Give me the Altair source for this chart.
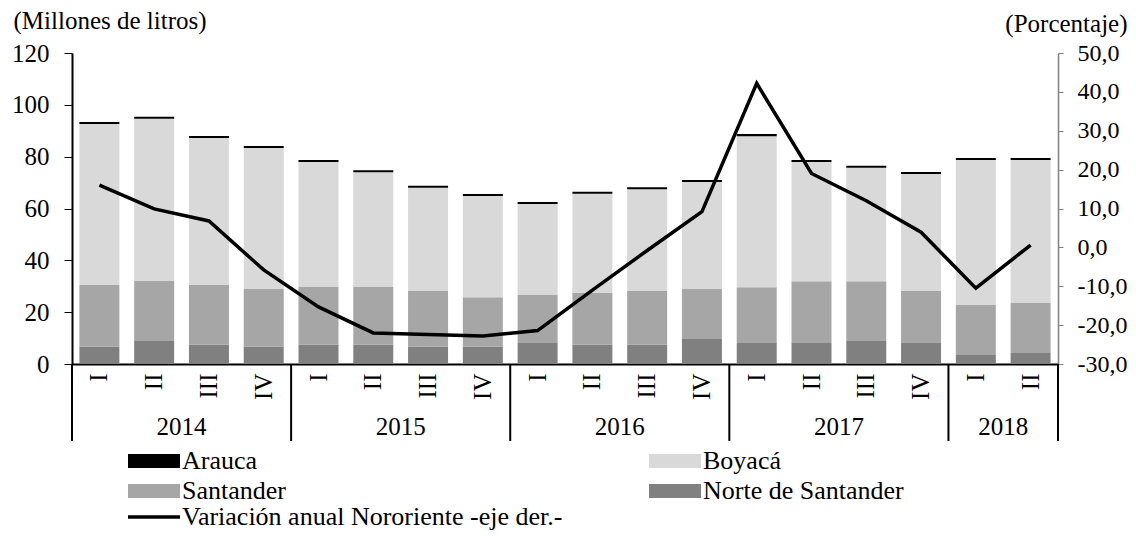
import altair as alt
import pandas as pd

# ---- data ----
year_of = ["2014", "2014", "2014", "2014", "2015", "2015", "2015", "2015",
           "2016", "2016", "2016", "2016", "2017", "2017", "2017", "2017",
           "2018", "2018"]
quarter = ["I", "II", "III", "IV", "I", "II", "III", "IV",
           "I", "II", "III", "IV", "I", "II", "III", "IV",
           "I", "II"]
norte_santander = [6.7, 8.9, 7.5, 6.7, 7.5, 7.5, 6.7, 6.7, 8.1, 7.5, 7.5, 9.6,
                   8.1, 8.1, 8.9, 8.1, 3.5, 4.2]
santander = [23.8, 23.1, 23.0, 22.2, 22.2, 22.2, 21.5, 19.1, 18.5, 19.9, 20.7, 19.3,
             21.5, 23.8, 23.0, 20.1, 19.3, 19.3]
boyaca = [62.1, 62.6, 56.7, 54.4, 48.2, 44.3, 39.8, 39.0, 35.1, 38.3, 39.2, 41.3,
          58.3, 46.0, 43.8, 45.1, 55.9, 55.2]
arauca = [0.8, 0.8, 0.8, 0.8, 0.8, 0.8, 0.8, 0.8, 0.8, 0.8, 0.8, 0.8,
          0.8, 0.8, 0.8, 0.8, 0.8, 0.8]
variacion = [16.0, 9.9, 6.8, -5.8, -15.3, -22.0, -22.4, -22.8, -21.4, -11.0, -0.8, 9.2,
             42.2, 19.0, 12.0, 3.9, -10.5, 0.6]

series_names = ["Arauca", "Boyacá", "Santander", "Norte de Santander"]
series_colors = ["#000000", "#d9d9d9", "#a6a6a6", "#808080"]
line_name = "Variación anual Nororiente -eje der.-"

year_labels = ["2014", "2015", "2016", "2017", "2018"]
year_label_at = ["2014-III", "2015-III", "2016-III", "2017-III", "2018-II"]
separator_at = ["2014-I", "2015-I", "2016-I", "2017-I", "2018-I"]
right_border_at = ["2018-II"]

left_ticks = [0, 20, 40, 60, 80, 100, 120]
right_ticks = [-30, -20, -10, 0, 10, 20, 30, 40, 50]

# ---- tables ----
ids = [y + "-" + q for y, q in zip(year_of, quarter)]
rows = []
for i, key in enumerate(ids):
    rows.append({"id": key, "serie": "Norte de Santander", "valor": norte_santander[i], "ord": 0})
    rows.append({"id": key, "serie": "Santander", "valor": santander[i], "ord": 1})
    rows.append({"id": key, "serie": "Boyacá", "valor": boyaca[i], "ord": 2})
    rows.append({"id": key, "serie": "Arauca", "valor": arauca[i], "ord": 3})
bars_df = pd.DataFrame(rows)
line_df = pd.DataFrame({"id": ids, "var": variacion, "serie": [line_name] * len(ids)})
years_df = pd.DataFrame({"id": year_label_at, "year": year_labels})
sep_df = pd.DataFrame({"id": separator_at})
border_df = pd.DataFrame({"id": right_border_at})

FONT = "Liberation Serif"
W = 986
H = 311
PI = 0.27
PO = PI / 2
HALF_GAP = (W / len(ids)) * PI / 2  # pixel distance from bar edge to the gap centre

xscale = alt.Scale(type="band", paddingInner=PI, paddingOuter=PO)
xaxis = alt.Axis(title=None, labelAngle=270, labelPadding=9, ticks=False, tickSize=0,
                 labelExpr="split(datum.label, '-')[1]", labelFontSize=25,
                 domainColor="black", domainWidth=2, labelColor="black")

right_label_expr = ("replace(replace(format(datum.value, '.1f'), '.', ','), '\u2212', '-')")

bars = alt.Chart(bars_df).mark_bar().encode(
    x=alt.X("id:N", sort=ids, scale=xscale, axis=xaxis),
    y=alt.Y("valor:Q", stack="zero",
            scale=alt.Scale(domain=[0, 120], nice=False),
            axis=alt.Axis(values=left_ticks, orient="left", title="(Millones de litros)",
                          titleAngle=0, titleAlign="left", titleBaseline="alphabetic",
                          titleX=-59, titleY=-25, tickSize=8, labelPadding=15,
                          domainWidth=2, domainColor="black", tickColor="black",
                          labelFontSize=25, titleFontSize=25)),
    color=alt.Color("serie:N",
                    scale=alt.Scale(domain=series_names, range=series_colors),
                    legend=alt.Legend(orient="none", legendX=69, legendY=395, columns=2,
                                      direction="horizontal",
                                      columnPadding=363, rowPadding=4, title=None,
                                      symbolType="M-3.25,-0.875L3.25,-0.875L3.25,0.875L-3.25,0.875Z",
                                      symbolSize=256, symbolStrokeWidth=0, symbolOpacity=1,
                                      labelOffset=15, labelFontSize=26, labelLimit=600,
                                      padding=0)),
    order=alt.Order("ord:Q"),
)

line = alt.Chart(line_df).mark_line(strokeWidth=3.5).encode(
    x=alt.X("id:N", sort=ids),
    y=alt.Y("var:Q", scale=alt.Scale(domain=[-30, 50], nice=False),
            axis=alt.Axis(values=right_ticks, orient="right", title="(Porcentaje)",
                          titleAngle=0, titleAlign="right", titleBaseline="alphabetic",
                          titleX=69, titleY=-22, tickSize=5, labelPadding=14,
                          domainColor="#808080", tickColor="#808080", domainWidth=1.5,
                          labelExpr=right_label_expr,
                          labelFontSize=24, titleFontSize=25)),
    stroke=alt.Stroke("serie:N", scale=alt.Scale(domain=[line_name], range=["black"]),
                      legend=alt.Legend(orient="none", legendX=69, legendY=451, title=None,
                                        symbolType="M-3.25,0L3.25,0", symbolSize=256,
                                        symbolStrokeWidth=3.5, labelOffset=15,
                                        labelFontSize=26, labelLimit=600, padding=0)),
)

seps = alt.Chart(sep_df).mark_rule(color="black", strokeWidth=2, xOffset=-HALF_GAP).encode(
    x=alt.X("id:N", sort=ids, bandPosition=0),
    y=alt.value(H), y2=alt.value(H + 77),
)
border = alt.Chart(border_df).mark_rule(color="black", strokeWidth=2, xOffset=HALF_GAP).encode(
    x=alt.X("id:N", sort=ids, bandPosition=1),
    y=alt.value(H), y2=alt.value(H + 77),
)
years = alt.Chart(years_df).mark_text(fontSize=25, baseline="middle", color="black",
                                      xOffset=-HALF_GAP).encode(
    x=alt.X("id:N", sort=ids, bandPosition=0),
    y=alt.value(H + 63),
    text="year:N",
)

chart = alt.layer(bars, line, seps, border, years).resolve_scale(
    y="independent", color="independent", stroke="independent"
).properties(
    width=W, height=H,
    padding={"left": 64, "top": 45, "right": 70, "bottom": 167},
    autosize=alt.AutoSizeParams(type="none"),
).configure_view(stroke="transparent").configure_axis(
    grid=False, labelFont=FONT, titleFont=FONT, titleFontWeight="normal",
    labelColor="black", titleColor="black",
).configure_legend(labelFont=FONT, labelColor="black").configure_text(font=FONT)

chart.save("out.html", embed_options={"renderer": "svg", "actions": False})
